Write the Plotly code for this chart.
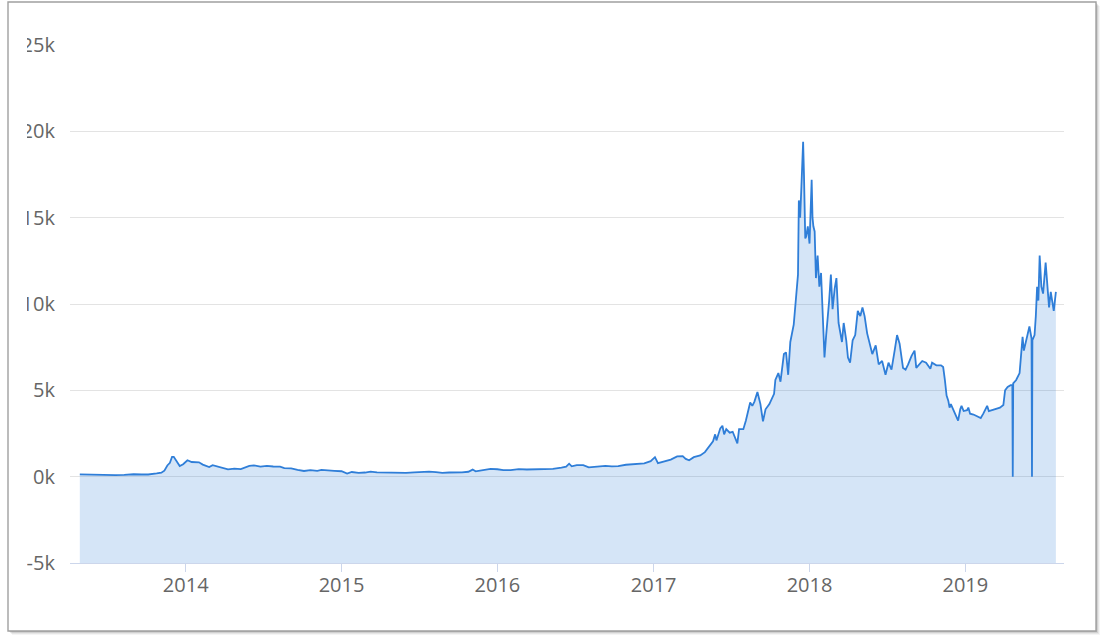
import plotly.graph_objects as go

# ---------------- data ----------------
dates = [
    "2013-04-28", "2013-05-15", "2013-06-01", "2013-06-20", "2013-07-05", "2013-07-20",
    "2013-08-10", "2013-09-01", "2013-09-20", "2013-10-05", "2013-10-25", "2013-11-05",
    "2013-11-12", "2013-11-19", "2013-11-25", "2013-11-30", "2013-12-04", "2013-12-10",
    "2013-12-18", "2013-12-26", "2014-01-05", "2014-01-15", "2014-02-01", "2014-02-10",
    "2014-02-25", "2014-03-05", "2014-03-20", "2014-04-10", "2014-04-25", "2014-05-10",
    "2014-05-30", "2014-06-10", "2014-06-25", "2014-07-10", "2014-07-25", "2014-08-10",
    "2014-08-20", "2014-09-05", "2014-09-20", "2014-10-05", "2014-10-20", "2014-11-05",
    "2014-11-15", "2014-12-01", "2014-12-15", "2015-01-01", "2015-01-14", "2015-01-25",
    "2015-02-10", "2015-02-25", "2015-03-10", "2015-03-25", "2015-04-10", "2015-04-25",
    "2015-05-15", "2015-06-01", "2015-06-20", "2015-07-10", "2015-07-25", "2015-08-10",
    "2015-08-25", "2015-09-10", "2015-09-25", "2015-10-10", "2015-10-25", "2015-11-04",
    "2015-11-11", "2015-11-25", "2015-12-05", "2015-12-16", "2016-01-01", "2016-01-15",
    "2016-02-01", "2016-02-20", "2016-03-10", "2016-03-30", "2016-04-20", "2016-05-10",
    "2016-05-30", "2016-06-10", "2016-06-17", "2016-06-23", "2016-07-05", "2016-07-20",
    "2016-08-02", "2016-08-20", "2016-09-10", "2016-09-25", "2016-10-10", "2016-10-28",
    "2016-11-10", "2016-11-25", "2016-12-10", "2016-12-25", "2017-01-04", "2017-01-11",
    "2017-01-25", "2017-02-10", "2017-02-25", "2017-03-10", "2017-03-17", "2017-03-25",
    "2017-04-05", "2017-04-20", "2017-05-01", "2017-05-10", "2017-05-20", "2017-05-25",
    "2017-05-28", "2017-06-06", "2017-06-11", "2017-06-15", "2017-06-20", "2017-06-28",
    "2017-07-05", "2017-07-16", "2017-07-20", "2017-07-30", "2017-08-05", "2017-08-15",
    "2017-08-20", "2017-08-25", "2017-09-01", "2017-09-08", "2017-09-14", "2017-09-20",
    "2017-09-29", "2017-10-10", "2017-10-13", "2017-10-20", "2017-10-25", "2017-11-02",
    "2017-11-07", "2017-11-12", "2017-11-17", "2017-11-25", "2017-11-29", "2017-12-01",
    "2017-12-05", "2017-12-07", "2017-12-10", "2017-12-13", "2017-12-17", "2017-12-19",
    "2017-12-22", "2017-12-24", "2017-12-28", "2018-01-01", "2018-01-06", "2018-01-08",
    "2018-01-10", "2018-01-13", "2018-01-16", "2018-01-20", "2018-01-24", "2018-01-28",
    "2018-02-01", "2018-02-05", "2018-02-09", "2018-02-12", "2018-02-16", "2018-02-20",
    "2018-02-24", "2018-03-01", "2018-03-05", "2018-03-10", "2018-03-15", "2018-03-18",
    "2018-03-22", "2018-03-28", "2018-04-01", "2018-04-06", "2018-04-12", "2018-04-18",
    "2018-04-24", "2018-04-30", "2018-05-05", "2018-05-10", "2018-05-16", "2018-05-24",
    "2018-05-28", "2018-06-05", "2018-06-12", "2018-06-20", "2018-06-28", "2018-07-05",
    "2018-07-12", "2018-07-20", "2018-07-25", "2018-07-31", "2018-08-08", "2018-08-14",
    "2018-08-20", "2018-08-28", "2018-09-04", "2018-09-08", "2018-09-15", "2018-09-22",
    "2018-10-01", "2018-10-11", "2018-10-15", "2018-10-25", "2018-11-05", "2018-11-10",
    "2018-11-14", "2018-11-18", "2018-11-22", "2018-11-25", "2018-11-28", "2018-12-05",
    "2018-12-11", "2018-12-15", "2018-12-20", "2018-12-23", "2018-12-28", "2019-01-05",
    "2019-01-08", "2019-01-12", "2019-01-20", "2019-01-31", "2019-02-06", "2019-02-12",
    "2019-02-21", "2019-02-25", "2019-03-10", "2019-03-23", "2019-03-31", "2019-04-04",
    "2019-04-10", "2019-04-17", "2019-04-21", "2019-04-22", "2019-04-23", "2019-04-30",
    "2019-05-08", "2019-05-12", "2019-05-15", "2019-05-18", "2019-05-24", "2019-05-31",
    "2019-06-05", "2019-06-06", "2019-06-07", "2019-06-12", "2019-06-15", "2019-06-18",
    "2019-06-21", "2019-06-24", "2019-06-28", "2019-07-02", "2019-07-08", "2019-07-12",
    "2019-07-16", "2019-07-20", "2019-07-23", "2019-07-27", "2019-08-01",
]
prices = [
    135, 120, 125, 110, 80, 95,
    105, 140, 125, 125, 185, 230,
    350, 650, 800, 1150, 1150, 950,
    620, 720, 950, 850, 830, 700,
    560, 670, 580, 420, 460, 440,
    620, 650, 580, 620, 590, 580,
    500, 480, 400, 330, 380, 340,
    390, 380, 340, 315, 180, 270,
    220, 240, 290, 250, 240, 225,
    240, 225, 245, 275, 290, 265,
    215, 240, 235, 245, 285, 410,
    310, 360, 390, 450, 430, 380,
    375, 440, 415, 415, 440, 455,
    530, 580, 750, 600, 670, 665,
    540, 580, 620, 600, 615, 690,
    710, 740, 770, 895, 1130, 780,
    890, 990, 1170, 1190, 1030, 950,
    1130, 1230, 1420, 1750, 2050, 2450,
    2100, 2800, 2950, 2450, 2750, 2550,
    2600, 1930, 2750, 2750, 3250, 4300,
    4100, 4350, 4900, 4200, 3200, 3900,
    4200, 4800, 5600, 6000, 5500, 7100,
    7200, 5900, 7800, 8800, 10000, 10900,
    11700, 16000, 15000, 16800, 19400, 17500,
    13800, 13900, 14500, 13500, 17200, 15000,
    14500, 14200, 11500, 12800, 11000, 11800,
    9200, 6900, 8200, 8900, 10200, 11700,
    9700, 10900, 11500, 8900, 8300, 7800,
    8900, 7900, 6900, 6600, 7900, 8200,
    9600, 9300, 9800, 9300, 8300, 7500,
    7100, 7600, 6500, 6700, 5900, 6600,
    6200, 7400, 8200, 7700, 6300, 6200,
    6500, 7000, 7300, 6300, 6500, 6700,
    6600, 6250, 6600, 6450, 6450, 6350,
    5600, 4700, 4400, 4000, 4200, 3800,
    3400, 3250, 3900, 4100, 3800, 3850,
    4000, 3650, 3600, 3450, 3400, 3650,
    4100, 3800, 3920, 4000, 4150, 5000,
    5200, 5300, 5300, 0, 5400, 5600,
    6000, 7000, 8100, 7300, 7900, 8700,
    8000, 0, 7900, 8200, 9300, 11000,
    10200, 12800, 11000, 10600, 12400, 11000,
    9800, 10700, 10300, 9600, 10700,
]

year_ticks = ["2014-01-01", "2015-01-01", "2016-01-01", "2017-01-01", "2018-01-01", "2019-01-01"]
year_labels = ["2014", "2015", "2016", "2017", "2018", "2019"]
y_ticks = [-5000, 0, 5000, 10000, 15000, 20000, 25000]
y_labels = ["-5k", "0k", "5k", "10k", "15k", "20k", "25k"]

# ---------------- layout geometry ----------------
W, H = 1104, 637
ML, MR, MT, MB = 70, 40, 45, 74
PW, PH = W - ML - MR, H - MT - MB


def px(x):
    return (x - ML) / PW


def py(y):
    return 1 - (y - MT) / PH


y_min, y_max = y_ticks[0], y_ticks[-1]

LINE = "#2f7ed8"
FILL = "rgba(47,126,216,0.2)"

fig = go.Figure()
# baseline at the bottom of the axis so the area fills down to -5k
fig.add_trace(go.Scatter(
    x=dates, y=[y_min] * len(dates), mode="lines",
    line=dict(width=0, color="rgba(0,0,0,0)"), hoverinfo="skip", showlegend=False,
))
fig.add_trace(go.Scatter(
    x=dates, y=prices, mode="lines", fill="tonexty", fillcolor=FILL,
    line=dict(color=LINE, width=1.8), showlegend=False, name="Price",
))

shapes = []
# soft shadow around the frame
for i, a in enumerate([0.12, 0.09, 0.06, 0.04]):
    d = i + 1
    shapes.append(dict(type="rect", xref="paper", yref="paper", layer="below",
                       x0=px(8 + d), x1=px(1096 + d), y0=py(2 + d), y1=py(631 + d),
                       fillcolor=f"rgba(0,0,0,{a})", line=dict(width=0)))
# frame
shapes.append(dict(type="rect", xref="paper", yref="paper", layer="below",
                   x0=px(8), x1=px(1096), y0=py(2), y1=py(631),
                   fillcolor="white", line=dict(color="#a0a0a0", width=1.4)))
# clip of the y labels on the left
shapes.append(dict(type="rect", xref="paper", yref="paper", layer="above",
                   x0=px(9.4), x1=px(27), y0=py(3), y1=py(630),
                   fillcolor="white", line=dict(width=0)))

fig.update_layout(
    width=W, height=H,
    margin=dict(l=ML, r=MR, t=MT, b=MB),
    paper_bgcolor="white",
    plot_bgcolor="white",
    font=dict(family="Open Sans, sans-serif", size=20, color="#666666"),
    shapes=shapes,
    hovermode=False,
)
fig.update_xaxes(
    type="date",
    range=["2013-04-05", "2019-08-20"],
    tickvals=year_ticks, ticktext=year_labels,
    showgrid=False, showline=True, linecolor="#ccd6eb", linewidth=1,
    ticks="outside", ticklen=8, tickcolor="#ccd6eb", tickwidth=1,
    ticklabelstandoff=-4,
    tickfont=dict(size=20, color="#666666"),
    zeroline=False,
)
fig.update_yaxes(
    range=[y_min, y_max],
    tickvals=y_ticks, ticktext=y_labels,
    showgrid=True, gridcolor="#e3e3e3", gridwidth=1,
    zeroline=False, showline=False, ticks="",
    ticklabelstandoff=14,
    tickfont=dict(size=20, color="#666666"),
)

fig.write_html("out.html", config={"displayModeBar": False},
               post_script="document.body.style.margin='0';")
